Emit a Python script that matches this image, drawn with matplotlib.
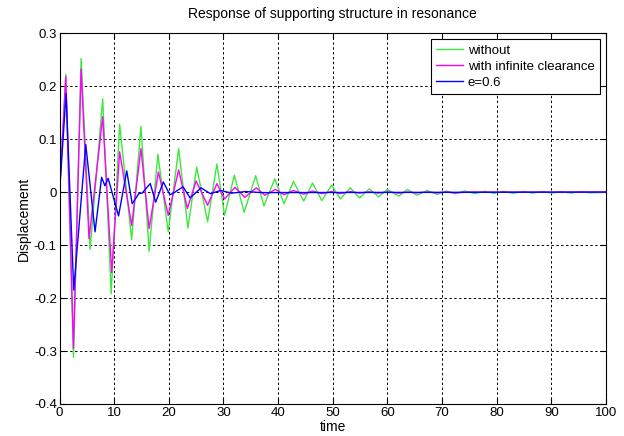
import matplotlib
matplotlib.use("Agg")
import matplotlib.pyplot as plt

# values (peaks / troughs of each response)
green_t = [0, 1.15, 2.55, 3.95, 5.6, 7.9, 9.45, 11.0, 13.2, 14.9, 16.4, 18.0, 19.9,
           21.8, 23.5, 25.1, 27.1, 28.8, 30.2, 32.0, 33.8, 35.9, 37.4, 39.4, 41.1,
           42.8, 44.7, 46.3, 48.0, 49.8, 51.4, 53.2, 54.9, 56.7, 58.4, 60.0, 62.1,
           63.7, 65.4, 67.3, 69.1, 70.8, 72.4, 74.2, 76.0, 77.8, 79.5, 81.3, 83.0,
           84.8, 86.6, 88.3, 90.1, 91.9, 93.6, 95.4, 97.2, 100]
green_v = [0, 0.222, -0.312, 0.252, -0.108, 0.176, -0.192, 0.128, -0.090, 0.124,
           -0.112, 0.071, -0.075, 0.082, -0.068, 0.047, -0.056, 0.053, -0.044, 0.032,
           -0.038, 0.031, -0.026, 0.025, -0.022, 0.020, -0.017, 0.017, -0.016, 0.013,
           -0.013, 0.008, -0.011, 0.006, -0.009, 0.005, -0.0075, 0.005, -0.006, 0.003,
           -0.0045, 0.002, -0.003, 0.002, -0.003, 0.0015, -0.0025, 0.0015, -0.0025,
           0.001, -0.002, 0.001, -0.002, 0.001, -0.002, 0.001, -0.0015, 0]

magenta_t = [0, 1.15, 2.55, 3.95, 5.4, 7.9, 9.55, 11.0, 13.2, 14.9, 16.4, 18.1, 19.9,
             21.8, 23.4, 25.0, 27.1, 28.8, 30.2, 32.1, 33.9, 36.0, 37.6, 39.5, 41.1,
             42.8, 44.7, 46.3, 48.0, 49.8, 51.4, 53.2, 54.9, 56.7, 58.4, 60.0, 62.1,
             63.7, 65.4, 67.3, 69.1, 70.8, 72.4, 75.0, 100]
magenta_v = [0, 0.218, -0.295, 0.232, -0.088, 0.142, -0.152, 0.076, -0.063, 0.082,
             -0.069, 0.038, -0.044, 0.042, -0.031, 0.021, -0.025, 0.016, -0.013, 0.009,
             -0.010, 0.008, -0.006, 0.005, -0.005, 0.003, -0.004, 0.002, -0.003, 0.001,
             -0.003, 0.001, -0.002, 0.0005, -0.002, 0.0005, -0.002, 0.0, -0.0015, 0.0,
             -0.0015, 0.0, -0.0015, 0.0, 0.0]

blue_t = [0, 1.2, 2.6, 4.8, 6.5, 7.7, 8.3, 8.9, 10.8, 12.3, 13.3, 14.5, 15.1, 16.6,
          17.6, 19.0, 20.2, 21.0, 22.6, 23.9, 25.9, 27.6, 29.5, 31.5, 34.0, 37.0, 100]
blue_v = [0, 0.186, -0.185, 0.090, -0.075, 0.028, 0.012, 0.026, -0.045, 0.040, -0.022,
          -0.003, -0.002, 0.016, -0.019, 0.019, -0.005, -0.001, 0.010, -0.011, 0.008,
          -0.003, 0.003, -0.002, 0.001, -0.001, 0]

x_ticks = [0, 10, 20, 30, 40, 50, 60, 70, 80, 90, 100]
y_ticks = [-0.4, -0.3, -0.2, -0.1, 0, 0.1, 0.2, 0.3]
y_tick_labels = ["-0.4", "-0.3", "-0.2", "-0.1", "0", "0.1", "0.2", "0.3"]

plt.rcParams["font.family"] = ["Liberation Sans", "DejaVu Sans"]

fig = plt.figure(figsize=(6.24, 4.36), dpi=100)
ax = fig.add_axes([0.0954, 0.0734, 0.8756, 0.8506])

ax.plot(green_t, green_v, color="#3de83d", lw=1.0, label="without", solid_joinstyle="round")
ax.plot(magenta_t, magenta_v, color="#ff00ff", lw=1.0, label="with infinite clearance",
        solid_joinstyle="round")
ax.plot(blue_t, blue_v, color="#0000ff", lw=1.0, label="e=0.6", solid_joinstyle="round")

ax.set_xlim(0, 100)
ax.set_ylim(-0.4, 0.3)
ax.set_xticks(x_ticks)
ax.set_yticks(y_ticks)
ax.set_yticklabels(y_tick_labels)
ax.tick_params(direction="in", top=True, right=True, labelsize=9.5, length=4, pad=2)
ax.grid(True, color="black", linestyle=(0, (2.5, 2.5)), linewidth=0.7)
for s in ax.spines.values():
    s.set_linewidth(0.8)

ax.set_title("Response of supporting structure in resonance", fontsize=10, pad=11)
ax.set_xlabel("time", fontsize=10, labelpad=1)
ax.set_ylabel("Displacement", fontsize=10, labelpad=2)

leg = ax.legend(loc="upper right", fontsize=9.5, fancybox=False, framealpha=1,
                edgecolor="black", handlelength=2.0, handletextpad=0.4,
                labelspacing=0.3, borderpad=0.4, borderaxespad=0.45)
leg.get_frame().set_linewidth(0.8)

fig.savefig("out.png", dpi=100, facecolor="white")
